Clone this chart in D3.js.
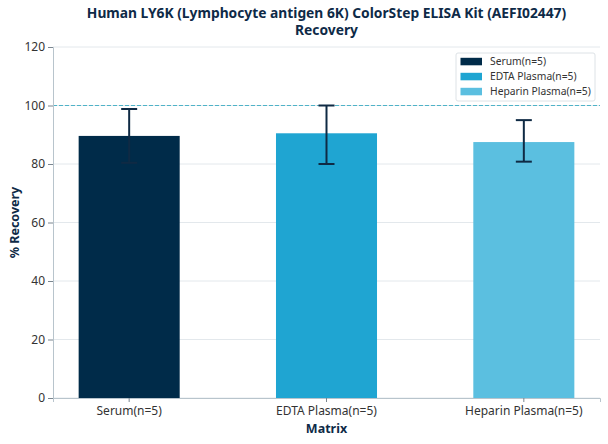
<!DOCTYPE html>
<html>
<head>
<meta charset="utf-8">
<script src="https://cdn.jsdelivr.net/npm/d3@7"></script>
<style>
  body { margin: 0; background: #fff; }
  text { font-family: "Noto Sans", "Open Sans", sans-serif; }
</style>
</head>
<body>
<div id="chart"></div>
<script>
// Data
var categories = ['Serum(n=5)', 'EDTA Plasma(n=5)', 'Heparin Plasma(n=5)'];
var recovery = [89.6, 90.5, 87.5];
var errLow = [80.4, 80.0, 80.8];
var errHigh = [98.8, 100.0, 95.0];
var colors = ['#002b49', '#1fa5d2', '#5bbfe0'];
var yTicks = [0, 20, 40, 60, 80, 100, 120];

var W = 608, H = 444;
var margin = {top: 47, right: 8, bottom: 46, left: 53},
    width = W - margin.left - margin.right,
    height = H - margin.top - margin.bottom;

var svg = d3.select('#chart').append('svg')
    .attr('width', W)
    .attr('height', H);
var g = svg.append('g')
    .attr('transform', 'translate(' + margin.left + ',' + margin.top + ')');

// Scales
var x = d3.scaleBand()
    .domain(categories)
    .range([0, width])
    .paddingInner(0.488)
    .paddingOuter(0.13);
var y = d3.scaleLinear()
    .domain([0, 120])
    .range([height, 0]);

// Grid
g.append('g')
    .selectAll('line')
    .data(yTicks)
    .enter().append('line')
    .attr('x1', 0).attr('x2', width)
    .attr('y1', function(d) { return y(d); })
    .attr('y2', function(d) { return y(d); })
    .attr('stroke', '#e3e8ec')
    .attr('stroke-width', 1);

// 100% reference
g.append('line')
    .attr('x1', 0).attr('x2', width)
    .attr('y1', Math.round(y(100)) + 0.5).attr('y2', Math.round(y(100)) + 0.5)
    .attr('stroke', '#4fb3c8')
    .attr('stroke-width', 1)
    .attr('stroke-dasharray', '4,2');

// Bars
var data = categories.map(function(c, i) {
    return {cat: c, val: recovery[i], lo: errLow[i], hi: errHigh[i], color: colors[i]};
});
g.selectAll('.bar')
    .data(data)
    .enter().append('rect')
    .attr('class', 'bar')
    .attr('x', function(d) { return x(d.cat); })
    .attr('y', function(d) { return y(d.val); })
    .attr('width', x.bandwidth())
    .attr('height', function(d) { return height - y(d.val); })
    .style('fill', function(d) { return d.color; });

// Error bars
var eb = g.selectAll('.err')
    .data(data)
    .enter().append('g')
    .attr('class', 'err')
    .attr('stroke', '#0f2a44')
    .attr('stroke-width', 2);
eb.append('line')
    .attr('x1', function(d) { return x(d.cat) + x.bandwidth() / 2; })
    .attr('x2', function(d) { return x(d.cat) + x.bandwidth() / 2; })
    .attr('y1', function(d) { return y(d.lo); })
    .attr('y2', function(d) { return y(d.hi); });
eb.append('line')
    .attr('x1', function(d) { return x(d.cat) + x.bandwidth() / 2 - 8; })
    .attr('x2', function(d) { return x(d.cat) + x.bandwidth() / 2 + 8; })
    .attr('y1', function(d) { return y(d.hi); })
    .attr('y2', function(d) { return y(d.hi); });
eb.append('line')
    .attr('x1', function(d) { return x(d.cat) + x.bandwidth() / 2 - 8; })
    .attr('x2', function(d) { return x(d.cat) + x.bandwidth() / 2 + 8; })
    .attr('y1', function(d) { return y(d.lo); })
    .attr('y2', function(d) { return y(d.lo); });

// Axes
var yAxis = g.append('g')
    .call(d3.axisLeft(y).tickValues(yTicks).tickSize(5).tickPadding(3));
var xAxis = g.append('g')
    .attr('transform', 'translate(0,' + height + ')')
    .call(d3.axisBottom(x).tickSize(4).tickPadding(4));
[xAxis, yAxis].forEach(function(a) {
    a.select('.domain').attr('stroke', '#b8c4cc');
    a.selectAll('.tick line').attr('stroke', '#7a8690');
    a.selectAll('.tick text')
        .attr('fill', '#333')
        .style('font-size', '12px')
        .style('font-family', '"Noto Sans", sans-serif');
});

// Axis labels
svg.append('text')
    .text('Matrix')
    .attr('x', margin.left + width / 2)
    .attr('y', 433)
    .attr('text-anchor', 'middle')
    .attr('font-size', '12.5px')
    .attr('font-weight', 'bold')
    .attr('fill', '#0e2a47');
svg.append('text')
    .text('% Recovery')
    .attr('text-anchor', 'middle')
    .attr('font-size', '12.5px')
    .attr('font-weight', 'bold')
    .attr('fill', '#0e2a47')
    .attr('transform', 'translate(19,' + (margin.top + height / 2) + ')rotate(-90)');

// Title (one text, two lines)
var title = ['Human LY6K (Lymphocyte antigen 6K) ColorStep ELISA Kit (AEFI02447)', 'Recovery'];
var titleText = svg.append('text')
    .attr('text-anchor', 'middle')
    .attr('font-size', '13.8px')
    .attr('font-weight', 'bold')
    .attr('fill', '#0e2a47');
title.forEach(function(t, i) {
    titleText.append('tspan')
        .text(t)
        .attr('x', margin.left + width / 2)
        .attr('y', 18 + i * 16.5);
});

// Legend
var legend_x = 456, legend_y = 53;
var legend = svg.append('g');
legend.append('rect')
    .attr('x', legend_x)
    .attr('y', legend_y)
    .attr('width', 139)
    .attr('height', 48)
    .attr('rx', 2)
    .attr('fill', 'rgba(255,255,255,0.85)')
    .attr('stroke', '#dde2e6');
categories.forEach(function(c, i) {
    var ry = legend_y + 8.5 + i * 15;
    legend.append('rect')
        .attr('x', legend_x + 4.5)
        .attr('y', ry - 3.7)
        .attr('width', 21.5)
        .attr('height', 7.5)
        .style('fill', colors[i]);
    legend.append('text')
        .text(c)
        .attr('x', legend_x + 34)
        .attr('y', ry + 3.7)
        .attr('font-size', '10.3px')
        .attr('fill', '#333');
});
</script>
</body>
</html>
